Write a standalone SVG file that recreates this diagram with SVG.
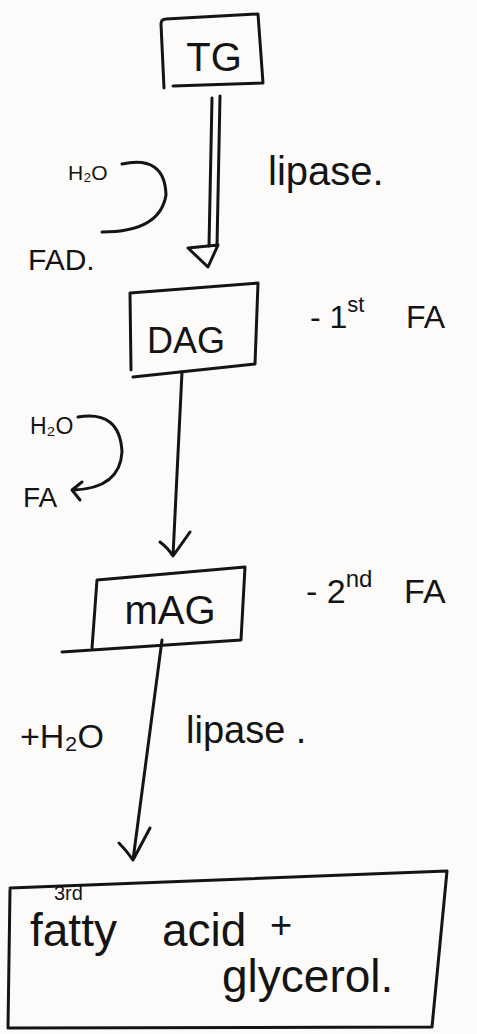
<svg xmlns="http://www.w3.org/2000/svg" width="477" height="1034" viewBox="0 0 477 1034">
<style>
.ink{fill:none;stroke:#141414;stroke-width:3;stroke-linecap:round;stroke-linejoin:round}
.t{font-family:"Liberation Sans",Arial,sans-serif;fill:#141414}
</style>
<rect width="477" height="1034" fill="#fdfbfa"/>
<g id="node-tg">
<path class="ink" d="M164,88 L161,24 Q161,19 166,19 L258,14 L263,83 L173,86"/>
<text class="t" x="214" y="71" font-size="40" text-anchor="middle">TG</text>
</g>
<g id="node-dag">
<path class="ink" d="M131,370 L130,293 L258,283 L255,364 L133,377"/>
<text class="t" x="186" y="353" font-size="36" text-anchor="middle">DAG</text>
</g>
<g id="node-mag">
<path class="ink" d="M92,648 L97,580 L245,567 L241,640 L62,652"/>
<text class="t" x="170" y="624" font-size="40" text-anchor="middle">mAG</text>
</g>
<g id="node-product">
<path class="ink" d="M10,888 L447,871 L432,1027 L8,1028 L10,890"/>
<text class="t" x="54" y="900" font-size="20">3rd</text>
<text class="t" x="30" y="946" font-size="46">fatty <tspan x="162">acid</tspan></text>
<text class="t" x="270" y="938" font-size="38">+</text>
<text class="t" x="222" y="992" font-size="46">glycerol.</text>
</g>
<g id="labels">
<text class="t" x="268" y="185" font-size="40">lipase.</text>
<text class="t" x="68" y="180" font-size="21">H₂O</text>
<text class="t" x="28" y="270" font-size="30">FAD.</text>
<text class="t" x="310" y="328" font-size="32">- 1<tspan font-size="22" dy="-16">st</tspan><tspan x="406" dy="16">FA</tspan></text>
<text class="t" x="30" y="434" font-size="23">H₂O</text>
<text class="t" x="23" y="507" font-size="28">FA</text>
<text class="t" x="306" y="603" font-size="34">- 2<tspan font-size="24" dy="-16">nd</tspan><tspan x="404" dy="16">FA</tspan></text>
<text class="t" x="20" y="748" font-size="34">+H₂O</text>
<text class="t" x="186" y="743" font-size="38">lipase .</text>
</g>
<g id="connectors">
<path class="ink" d="M212,98 L209,246 M220,96 L217,246"/>
<path class="ink" d="M188,248 L218,245 L208,267 Z"/>
<path class="ink" d="M122,164 Q165,155 166,195 Q160,232 102,232"/>
<path class="ink" d="M182,372 L173,556 M160,542 Q168,548 173,556 L190,532"/>
<path class="ink" d="M78,417 Q120,410 122,452 Q120,488 74,490 M82,482 L72,490 L80,500"/>
<path class="ink" d="M162,640 L133,860 M119,843 Q126,850 133,860 L150,828"/>
</g>
</svg>
